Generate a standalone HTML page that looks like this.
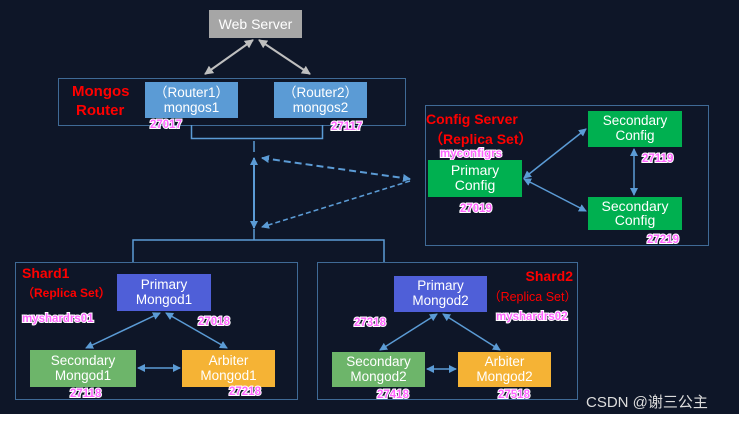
<!DOCTYPE html>
<html><head><meta charset="utf-8"><style>
body{margin:0;width:739px;height:421px;overflow:hidden;background:#fff}
svg{display:block}
text{font-family:"Liberation Sans",sans-serif}
.w{fill:#fff;font-size:13.5px;text-anchor:middle}
.r{fill:#ff0000;font-weight:bold;font-size:13px}
.p{fill:#ff66ff;font-weight:bold;font-size:11.5px;stroke:#fff;stroke-width:2px;paint-order:stroke}
</style></head><body>
<svg width="739" height="421" viewBox="0 0 739 421">
<defs>
<marker id="a" markerWidth="8" markerHeight="8" refX="7" refY="4" orient="auto-start-reverse" markerUnits="userSpaceOnUse"><path d="M0,0 L8,4 L0,8 z" fill="#5b9bd5"/></marker>
<marker id="g" markerWidth="9" markerHeight="9" refX="8" refY="4.5" orient="auto-start-reverse" markerUnits="userSpaceOnUse"><path d="M0,0 L9,4.5 L0,9 z" fill="#bfbfbf"/></marker>
</defs>
<rect x="0" y="0" width="739" height="414" fill="#0e1628"/>
<rect x="209" y="10" width="93" height="28" fill="#a6a6a6"/>
<text class="w" x="255.5" y="29" style="font-size:14px">Web Server</text>
<line x1="253" y1="40" x2="205" y2="74" stroke="#bfbfbf" stroke-width="2" marker-start="url(#g)" marker-end="url(#g)"/>
<line x1="259" y1="40" x2="310" y2="74" stroke="#bfbfbf" stroke-width="2" marker-start="url(#g)" marker-end="url(#g)"/>
<rect x="58.5" y="78.5" width="347" height="47" fill="none" stroke="#3f6a96"/>
<text class="r" x="72" y="96" style="font-size:15px">Mongos</text>
<text class="r" x="76" y="115" style="font-size:15px">Router</text>
<rect x="145" y="82" width="93" height="36" fill="#5b9bd5"/>
<text class="w" x="191.5" y="97">（Router1）</text><text class="w" x="191.5" y="112">mongos1</text>
<rect x="274" y="82" width="93" height="36" fill="#5b9bd5"/>
<text class="w" x="320.5" y="97">（Router2）</text><text class="w" x="320.5" y="112">mongos2</text>
<text class="p" x="150" y="128">27017</text>
<text class="p" x="331" y="130">27117</text>
<path d="M191.5,125 V138.5 H322.5 V125" fill="none" stroke="#5b9bd5" stroke-width="1.5"/>
<line x1="254" y1="141" x2="254" y2="152" stroke="#5b9bd5" stroke-width="1.5"/>
<line x1="254" y1="158" x2="254" y2="228" stroke="#5b9bd5" stroke-width="2" marker-start="url(#a)" marker-end="url(#a)"/>
<line x1="262" y1="158" x2="410" y2="179" stroke="#5b9bd5" stroke-width="2" stroke-dasharray="7,4" marker-start="url(#a)" marker-end="url(#a)"/>
<line x1="410" y1="181" x2="262" y2="227" stroke="#5b9bd5" stroke-width="1.5" stroke-dasharray="5,3" marker-end="url(#a)"/>
<line x1="254" y1="229" x2="254" y2="240" stroke="#5b9bd5" stroke-width="1.5"/>
<path d="M133,262 V240 H384 V262" fill="none" stroke="#5b9bd5" stroke-width="1.5"/>
<rect x="425.5" y="105.5" width="283" height="140" fill="none" stroke="#3f6a96"/>
<text class="r" x="426" y="124" style="font-size:14px">Config Server</text>
<text class="r" x="429" y="144" style="font-size:14px">（Replica Set）</text>
<text class="p" x="440" y="157">myconfigrs</text>
<rect x="428" y="160" width="94" height="37" fill="#00b050"/>
<text class="w" x="475" y="175" style="font-size:14px">Primary</text><text class="w" x="475" y="190" style="font-size:14px">Config</text>
<rect x="588" y="111" width="94" height="36" fill="#00b050"/>
<text class="w" x="635" y="125">Secondary</text><text class="w" x="635" y="140">Config</text>
<rect x="588" y="197" width="94" height="33" fill="#00b050"/>
<text class="w" x="635" y="211" style="font-size:14px">Secondary</text><text class="w" x="635" y="225" style="font-size:14px">Config</text>
<line x1="524" y1="178" x2="586" y2="129" stroke="#5b9bd5" stroke-width="1.5" marker-start="url(#a)" marker-end="url(#a)"/>
<line x1="524" y1="179" x2="586" y2="211" stroke="#5b9bd5" stroke-width="1.5" marker-start="url(#a)" marker-end="url(#a)"/>
<line x1="634" y1="149" x2="634" y2="195" stroke="#5b9bd5" stroke-width="1.5" marker-start="url(#a)" marker-end="url(#a)"/>
<text class="p" x="460" y="212">27019</text>
<text class="p" x="642" y="162">27119</text>
<text class="p" x="647" y="243">27219</text>
<rect x="15.5" y="262.5" width="282" height="137" fill="none" stroke="#3f6a96"/>
<text class="r" x="22" y="278" style="font-size:14px">Shard1</text>
<text class="r" x="22" y="297" style="font-size:12px">（Replica Set）</text>
<text class="p" x="22" y="322">myshardrs01</text>
<rect x="117" y="274" width="94" height="37" fill="#4f5fd8"/>
<text class="w" x="164" y="289">Primary</text><text class="w" x="164" y="304">Mongod1</text>
<rect x="30" y="350" width="106" height="37" fill="#6db56a"/>
<text class="w" x="83" y="365">Secondary</text><text class="w" x="83" y="380">Mongod1</text>
<rect x="182" y="350" width="93" height="37" fill="#f5b335"/>
<text class="w" x="228.5" y="365">Arbiter</text><text class="w" x="228.5" y="380">Mongod1</text>
<line x1="160" y1="313" x2="86" y2="348" stroke="#5b9bd5" stroke-width="1.5" marker-start="url(#a)" marker-end="url(#a)"/>
<line x1="166" y1="313" x2="227" y2="348" stroke="#5b9bd5" stroke-width="1.5" marker-start="url(#a)" marker-end="url(#a)"/>
<line x1="138" y1="368" x2="180" y2="368" stroke="#5b9bd5" stroke-width="1.5" marker-start="url(#a)" marker-end="url(#a)"/>
<text class="p" x="198" y="325">27018</text>
<text class="p" x="70" y="397">27118</text>
<text class="p" x="229" y="395">27218</text>
<rect x="317.5" y="262.5" width="260" height="137" fill="none" stroke="#3f6a96"/>
<text class="r" x="573" y="281" text-anchor="end" style="font-size:14px">Shard2</text>
<text x="577" y="301" text-anchor="end" style="font-size:12.5px;fill:#ff0000">（Replica Set）</text>
<text class="p" x="496" y="320">myshardrs02</text>
<rect x="394" y="276" width="93" height="36" fill="#4f5fd8"/>
<text class="w" x="440.5" y="290">Primary</text><text class="w" x="440.5" y="305">Mongod2</text>
<rect x="332" y="352" width="93" height="35" fill="#6db56a"/>
<text class="w" x="378.5" y="366">Secondary</text><text class="w" x="378.5" y="381">Mongod2</text>
<rect x="458" y="352" width="93" height="35" fill="#f5b335"/>
<text class="w" x="504.5" y="366">Arbiter</text><text class="w" x="504.5" y="381">Mongod2</text>
<line x1="437" y1="314" x2="380" y2="350" stroke="#5b9bd5" stroke-width="1.5" marker-start="url(#a)" marker-end="url(#a)"/>
<line x1="443" y1="314" x2="500" y2="350" stroke="#5b9bd5" stroke-width="1.5" marker-start="url(#a)" marker-end="url(#a)"/>
<line x1="427" y1="369" x2="456" y2="369" stroke="#5b9bd5" stroke-width="1.5" marker-start="url(#a)" marker-end="url(#a)"/>
<text class="p" x="354" y="326">27318</text>
<text class="p" x="377" y="398">27418</text>
<text class="p" x="498" y="398">27518</text>
<text x="586" y="407" fill="#dddddd" font-size="15">CSDN @<tspan font-family="'Noto Sans CJK SC',sans-serif">谢三公主</tspan></text>
</svg>
</body></html>
